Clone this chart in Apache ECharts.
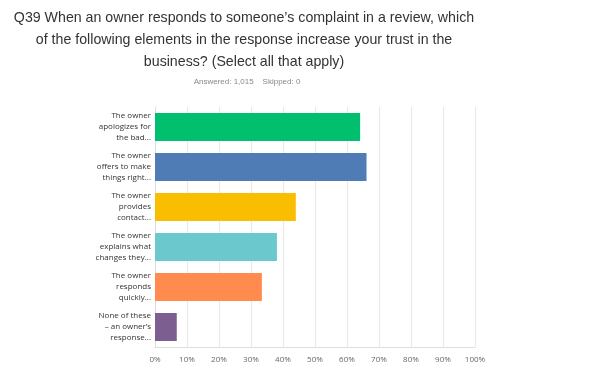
<!DOCTYPE html>
<html><head><meta charset="utf-8">
<script src="https://cdn.jsdelivr.net/npm/echarts@6/dist/echarts.min.js"></script>
<style>html,body{margin:0;padding:0;background:#fff}#c{width:601px;height:375px}</style>
</head><body><div id="c"></div>
<script>
var categories = [
  "The owner\napologizes for\nthe bad...",
  "The owner\noffers to make\nthings right...",
  "The owner\nprovides\ncontact...",
  "The owner\nexplains what\nchanges they...",
  "The owner\nresponds\nquickly...",
  "None of these\n– an owner’s\nresponse..."
];
var values = [64.1, 66.1, 44.0, 38.1, 33.4, 6.8];
var colors = ["#00BF6F", "#507CB6", "#F9BE00", "#6BC8CD", "#FF8B4F", "#7D5E90"];
var titleText = "Q39 When an owner responds to someone’s complaint in a review, which\nof the following elements in the response increase your trust in the\nbusiness? (Select all that apply)";
var subText = "Answered: 1,015    Skipped: 0";

var chart = echarts.init(document.getElementById('c'), null, {renderer: 'canvas'});
chart.setOption({
  animation: false,
  graphic: [{
    type: 'text', x: 244, y: 7,
    style: {text: titleText, align: 'center', verticalAlign: 'top', fontFamily: 'Liberation Sans', fontSize: 14.2, lineHeight: 22, fill: '#333'}
  }, {
    type: 'text', x: 247, y: 78,
    style: {text: subText, align: 'center', verticalAlign: 'top', fontFamily: 'Liberation Sans', fontSize: 8, fill: '#888'}
  }],
  grid: {left: 155, right: 126, top: 107, bottom: 28, containLabel: false},
  xAxis: {
    type: 'value', min: 0, max: 100, interval: 10,
    axisLine: {show: true, lineStyle: {color: '#ddd'}},
    axisTick: {show: false},
    splitLine: {show: true, lineStyle: {color: '#e9e9e9'}},
    axisLabel: {formatter: '{value}%', color: '#666', fontSize: 8, fontFamily: 'Open Sans', margin: 9}
  },
  yAxis: {
    type: 'category', data: categories, inverse: true,
    axisLine: {show: true, lineStyle: {color: '#ddd'}},
    axisTick: {show: false},
    axisLabel: {color: '#333', fontSize: 8, fontFamily: 'Open Sans', lineHeight: 11, margin: 4, align: 'right', padding: [7, 0, 0, 0]}
  },
  series: [{
    type: 'bar',
    data: values.map(function (v, i) { return {value: v, itemStyle: {color: colors[i]}}; }),
    barCategoryGap: '30%'
  }]
});
</script></body></html>
